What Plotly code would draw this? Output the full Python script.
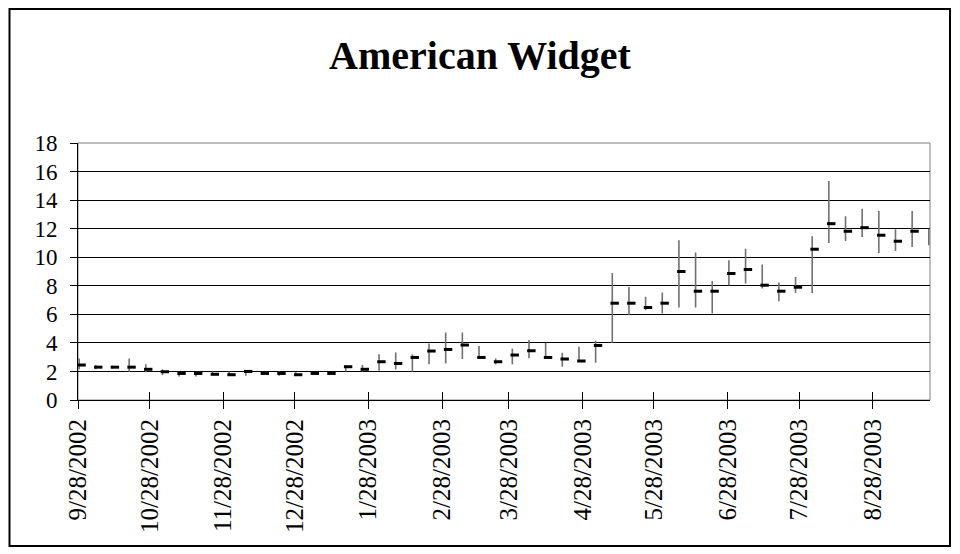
import plotly.graph_objects as go
import pandas as pd

title_text = "American Widget"

dates = [
    "2002-09-28", "2002-10-05", "2002-10-12", "2002-10-19", "2002-10-26",
    "2002-11-02", "2002-11-09", "2002-11-16", "2002-11-23", "2002-11-30",
    "2002-12-07", "2002-12-14", "2002-12-21", "2002-12-28",
    "2003-01-04", "2003-01-11", "2003-01-18", "2003-01-25",
    "2003-02-01", "2003-02-08", "2003-02-15", "2003-02-22",
    "2003-03-01", "2003-03-08", "2003-03-15", "2003-03-22", "2003-03-29",
    "2003-04-05", "2003-04-12", "2003-04-19", "2003-04-26",
    "2003-05-03", "2003-05-10", "2003-05-17", "2003-05-24", "2003-05-31",
    "2003-06-07", "2003-06-14", "2003-06-21", "2003-06-28",
    "2003-07-05", "2003-07-12", "2003-07-19", "2003-07-26",
    "2003-08-02", "2003-08-09", "2003-08-16", "2003-08-23", "2003-08-30",
    "2003-09-06", "2003-09-13", "2003-09-20",
]

high = [2.9, 2.45, 2.4, 2.9, 2.5, 2.15, 1.98, 1.98, 2.0, 1.98,
        2.1, 1.95, 2.0, 1.95, 1.95, 1.95, 2.45, 2.45, 3.2, 3.33,
        3.2, 3.96, 4.73, 4.73, 3.78, 2.91, 3.6, 4.2, 4.0, 3.31,
        3.73, 4.15, 8.9, 7.92, 7.23, 7.53, 11.19, 10.33, 8.34, 9.79,
        10.6, 9.49, 8.23, 8.62, 11.47, 15.34, 12.87, 13.4, 13.24, 11.96,
        13.24, 12.0]

low = [2.15, 2.15, 2.2, 1.98, 1.95, 1.75, 1.65, 1.65, 1.75, 1.75,
       1.7, 1.8, 1.7, 1.7, 1.8, 1.8, 2.0, 2.0, 2.05, 2.14,
       1.98, 2.5, 2.56, 2.87, 2.98, 2.5, 2.5, 2.92, 2.95, 2.33,
       2.7, 2.61, 4.0, 5.94, 6.29, 6.06, 6.48, 6.48, 6.06, 8.04,
       8.16, 7.81, 6.92, 7.5, 7.5, 11.0, 11.14, 11.42, 10.3, 10.44,
       10.72, 10.84]

close = [2.45, 2.3, 2.3, 2.3, 2.15, 1.98, 1.86, 1.86, 1.8, 1.77,
         2.0, 1.86, 1.86, 1.77, 1.86, 1.86, 2.33, 2.15, 2.68, 2.56,
         2.98, 3.43, 3.54, 3.85, 2.98, 2.68, 3.15, 3.45, 2.98, 2.87,
         2.73, 3.82, 6.78, 6.78, 6.48, 6.78, 9.0, 7.62, 7.62, 8.86,
         9.14, 8.04, 7.62, 7.9, 10.56, 12.35, 11.82, 12.07, 11.54, 11.12,
         11.82, 11.68]

tick_dates = ["2002-09-28", "2002-10-28", "2002-11-28", "2002-12-28",
              "2003-01-28", "2003-02-28", "2003-03-28", "2003-04-28",
              "2003-05-28", "2003-06-28", "2003-07-28", "2003-08-28"]
tick_labels = ["9/28/2002", "10/28/2002", "11/28/2002", "12/28/2002",
               "1/28/2003", "2/28/2003", "3/28/2003", "4/28/2003",
               "5/28/2003", "6/28/2003", "7/28/2003", "8/28/2003"]

x_range = ["2002-09-28", "2003-09-21"]
y_ticks = list(range(0, 19, 2))

FONT = "Liberation Serif, Times New Roman, serif"

# Excel centres each point in its day slot
dt = pd.to_datetime(dates)
stick_x = dt + pd.Timedelta(hours=12)
mark_x = dt + pd.Timedelta(hours=36)

sx, sy = [], []
for xv, h, l in zip(stick_x, high, low):
    sx += [xv, xv, None]
    sy += [l, h, None]

W, H = 960, 554
OFF = 8  # page body offset
ML, MR, MT, MB = 78 - OFF, W - 930 + OFF, 143 - OFF, H - 400 + OFF
PW, PH = W - ML - MR, H - MT - MB

def px_x(px):
    return (px - OFF - ML) / PW

def px_y(py):
    return (H - MB - (py - OFF)) / PH

fig = go.Figure()
fig.add_trace(go.Scatter(x=sx, y=sy, mode="lines",
                         line=dict(color="#707070", width=1.6),
                         hoverinfo="skip", showlegend=False))
fig.add_trace(go.Scatter(x=mark_x, y=close, mode="markers",
                         marker=dict(symbol="line-ew", size=6,
                                     line=dict(color="black", width=3)),
                         cliponaxis=False, showlegend=False))
# dummy trace for the inner tick axis
fig.add_trace(go.Scatter(x=[dt[0]], y=[0], xaxis="x2", mode="markers",
                         marker=dict(opacity=0), hoverinfo="skip",
                         showlegend=False))

fig.update_layout(
    width=W, height=H,
    margin=dict(l=ML, r=MR, t=MT, b=MB),
    paper_bgcolor="white", plot_bgcolor="white",
    font=dict(family=FONT, color="black"),
    title=dict(text="<b>" + title_text + "</b>", x=(480 - OFF) / W,
               xanchor="center", y=1 - (55 - OFF) / H, yanchor="middle",
               font=dict(family=FONT, size=40, color="black")),
    xaxis=dict(type="date", range=x_range, tickvals=tick_dates,
               ticktext=tick_labels, tickangle=-90,
               ticks="outside", ticklen=8, tickcolor="black", tickwidth=1,
               showline=True, linecolor="black", linewidth=1,
               showgrid=False, zeroline=False, ticklabelstandoff=0,
               tickfont=dict(family=FONT, size=25, color="black")),
    xaxis2=dict(type="date", range=x_range, tickvals=tick_dates,
                overlaying="x", anchor="y", side="bottom",
                ticks="inside", ticklen=8, tickcolor="black", tickwidth=1,
                showticklabels=False, showline=False, showgrid=False,
                zeroline=False),
    yaxis=dict(range=[0, 18], tickvals=y_ticks,
               ticks="outside", ticklen=7, tickcolor="black",
               showline=True, linecolor="black", linewidth=1,
               showgrid=True, gridcolor="black", gridwidth=1,
               zeroline=False, ticklabelstandoff=8,
               tickfont=dict(family=FONT, size=23, color="black")),
    shapes=[
        dict(type="rect", xref="paper", yref="paper", x0=0, x1=1, y0=0, y1=1,
             line=dict(color="#808080", width=1), layer="below"),
        dict(type="rect", xref="paper", yref="paper",
             x0=px_x(9.5), x1=px_x(950), y0=px_y(546), y1=px_y(9),
             line=dict(color="black", width=2), layer="above"),
    ],
)

fig.write_html("out.html")
